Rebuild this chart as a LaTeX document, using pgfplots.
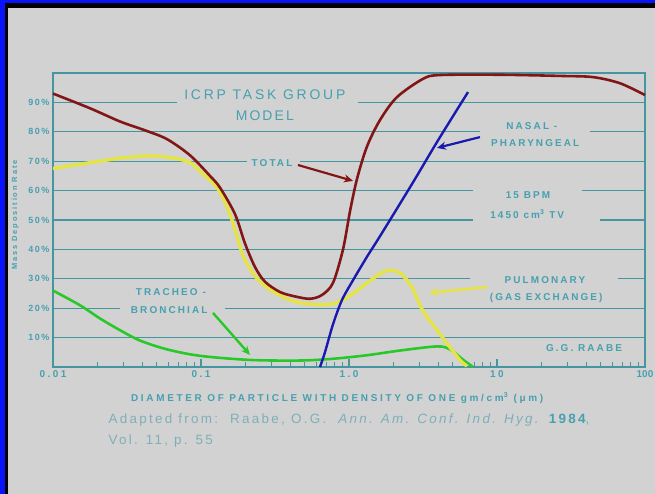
\documentclass[border=0pt]{standalone}
\usepackage{pgfplots}
\pgfplotsset{compat=1.18}
\usepackage{fontspec}
\setmainfont{Liberation Sans}
\usetikzlibrary{arrows.meta}

\definecolor{slidebg}{RGB}{210,210,210}
\definecolor{frameblue}{RGB}{10,20,250}
\definecolor{gridteal}{RGB}{70,150,162}
\definecolor{labteal}{RGB}{70,160,175}
\definecolor{captteal}{RGB}{125,175,185}
\definecolor{totalred}{RGB}{130,22,22}
\definecolor{pulmyellow}{RGB}{228,228,70}
\definecolor{trachgreen}{RGB}{40,200,40}
\definecolor{nasalblue}{RGB}{25,25,175}

\tikzset{
  lab/.style={text=labteal, inner sep=0pt,
    font=\bfseries\fontsize{10}{11}\selectfont\addfontfeature{LetterSpace=21}},
  gl/.style={gridteal, line width=1.3pt},
}

\begin{document}
\begin{tikzpicture}[x=1bp,y=1bp]
\useasboundingbox (0,0) rectangle (655,494);
% slide background and frame
\fill[slidebg] (0,0) rectangle (655,494);
\fill[frameblue] (0,0) rectangle (5,494);
\fill[frameblue] (0,491) rectangle (655,494);
\fill[black] (5,0) rectangle (8,491);
\fill[black] (5,486) rectangle (655,491);

\begin{axis}[
  at={(53bp,127bp)}, anchor=south west,
  scale only axis, width=592bp, height=294bp,
  xmode=log, xmin=0.01, xmax=100, ymin=0, ymax=100,
  axis line style={gridteal, line width=1.4pt},
  xtick={0.01,0.1,1,10,100},
  xticklabels={0.01,0.1,1.0,10,{\addfontfeature{LetterSpace=0}100}},
  minor xtick={0.02,0.03,0.04,0.05,0.06,0.07,0.08,0.09,
               0.2,0.3,0.4,0.5,0.6,0.7,0.8,0.9,
               2,3,4,5,6,7,8,9,20,30,40,50,60,70,80,90},
  xtick pos=bottom, tick align=inside,
  major tick length=8bp, minor tick length=5bp,
  every tick/.style={gridteal, line width=1.1pt},
  ytick={10,20,30,40,50,60,70,80,90},
  yticklabels={10\%,20\%,30\%,40\%,50\%,60\%,70\%,80\%,90\%},
  ytick style={draw=none},
  ytick pos=left,
  xticklabel style={font=\bfseries\fontsize{10}{11}\selectfont\addfontfeature{LetterSpace=25}, text=labteal},
  yticklabel style={font=\bfseries\fontsize{9}{10}\selectfont\addfontfeature{LetterSpace=18}, text=labteal},
  xlabel={DIAMETER OF PARTICLE WITH DENSITY OF ONE gm/cm\textsuperscript{3} (μm)},
  xlabel style={at={(axis description cs:0.48,-0.105)}, anchor=center,
    font=\bfseries\fontsize{10}{11}\selectfont\addfontfeature{LetterSpace=27}, text=labteal},
  ylabel={Mass Deposition Rate},
  ylabel style={at={(axis description cs:-0.064,0.517)}, anchor=center,
    font=\bfseries\fontsize{7.5}{8}\selectfont\addfontfeature{LetterSpace=25}, text=labteal},
  clip=false,
]
% horizontal rules, broken where the labels stand
\draw[gl] (axis cs:0.01,90) -- (axis cs:0.0689,90) (axis cs:1.151,90) -- (axis cs:100,90);
\draw[gl] (axis cs:0.01,80) -- (axis cs:7.67,80) (axis cs:42.5,80) -- (axis cs:100,80);
\draw[gl] (axis cs:0.01,70) -- (axis cs:0.2047,70) (axis cs:0.467,70) -- (axis cs:100,70);
\draw[gl] (axis cs:0.01,60) -- (axis cs:6.88,60) (axis cs:37.5,60) -- (axis cs:100,60);
\draw[gl] (axis cs:0.01,50) -- (axis cs:6.88,50) (axis cs:49.7,50) -- (axis cs:100,50);
\draw[gl] (axis cs:0.01,40) -- (axis cs:100,40);
\draw[gl] (axis cs:0.01,30) -- (axis cs:6.57,30) (axis cs:65.7,30) -- (axis cs:100,30);
\draw[gl] (axis cs:0.01,20) -- (axis cs:0.0284,20) (axis cs:0.145,20) -- (axis cs:100,20);
\draw[gl] (axis cs:0.01,10) -- (axis cs:100,10);

% tracheo-bronchial
\addplot[trachgreen, line width=2.6pt, smooth] coordinates {
  (0.01,26) (0.01522,21) (0.02078,16.5) (0.0284,12.5) (0.0387,9)
  (0.0589,6) (0.0985,3.8) (0.2144,2.4) (0.4667,2.2) (0.7795,2.8)
  (1.323,4) (2.211,5.6) (3.93,7) (4.813,6) (5.891,2.5) (6.883,0)
};
% pulmonary (gas exchange)
\addplot[pulmyellow, line width=3.4pt, smooth] coordinates {
  (0.01,67.5) (0.0178,69.5) (0.0284,71) (0.0452,71.8) (0.0667,71)
  (0.0843,69.5) (0.0985,66.5) (0.1283,61) (0.157,52) (0.1922,38)
  (0.2317,31) (0.2792,27) (0.3695,23.5) (0.4667,21.8) (0.6369,21.2)
  (0.7795,21.5) (0.9397,23.2) (1.098,25.5) (1.323,28.6) (1.697,32.3)
  (1.983,32.8) (2.280,31.5) (2.666,27) (3.162,19) (3.811,13.5)
  (4.595,8) (5.623,2.4) (6.27,0.3)
};
% total
\addplot[totalred, line width=2.6pt, smooth] coordinates {
  (0.01,93) (0.01778,88) (0.02837,83.5) (0.04183,80.5) (0.0589,77.5)
  (0.0843,72) (0.1150,65) (0.1344,61) (0.1697,52) (0.1983,42)
  (0.2317,34) (0.2706,29) (0.3418,25.5) (0.4316,24) (0.5450,23.2)
  (0.6571,24.5) (0.7795,28.6) (0.9110,40) (1.016,53) (1.133,64)
  (1.323,75) (1.620,84) (2.110,91.8) (3.162,98) (4.120,99.3)
  (10.48,99.4) (26.7,99) (44.5,98.6) (67.8,96.5) (100,92.5)
};
% nasal-pharyngeal
\addplot[nasalblue, line width=2.4pt, smooth] coordinates {
  (0.6369,0) (0.688,5) (0.7795,14.5) (0.8968,22.8) (1.064,29.5)
  (1.323,37.5) (1.620,44.5) (2.707,62.8) (3.93,76.5) (6.369,93.5)
};

% labels and pointers
\node[lab, font=\fontsize{14}{15}\selectfont\addfontfeature{LetterSpace=20}] at (axis cs:0.27,92.5) {ICRP TASK GROUP};
\node[lab, font=\fontsize{14}{15}\selectfont\addfontfeature{LetterSpace=15}] at (axis cs:0.27,85.4) {MODEL};
\node[lab] at (axis cs:0.302,69.4) {TOTAL};
\node[lab] at (axis cs:17.2,82) {NASAL -};
\node[lab] at (axis cs:18.1,76.2) {PHARYNGEAL};
\node[lab] at (axis cs:16.2,58.5) {15 BPM};
\node[lab] at (axis cs:16,52) {1450 cm\textsuperscript{3} TV};
\node[lab] at (axis cs:21.1,29.6) {PULMONARY};
\node[lab] at (axis cs:21.5,23.5) {(GAS EXCHANGE)};
\node[lab] at (axis cs:0.0626,25.5) {TRACHEO -};
\node[lab] at (axis cs:0.061,19.4) {BRONCHIAL};
\node[lab] at (axis cs:38.7,6.5) {G.G. RAABE};

\draw[totalred, line width=2.2pt, -{Stealth[length=9bp,width=8bp]}]
  (axis cs:0.452,68.7) -- (axis cs:1.064,63.3);
\draw[nasalblue, line width=2.2pt, -{Stealth[length=9bp,width=8bp]}]
  (axis cs:7.67,78.2) -- (axis cs:3.93,74.5);
\draw[pulmyellow, line width=2.6pt, -{Stealth[length=9bp,width=8bp]}]
  (axis cs:8.56,27.2) -- (axis cs:3.47,25.2);
\draw[trachgreen, line width=2.4pt, -{Stealth[length=9bp,width=8bp]}]
  (axis cs:0.1205,18.4) -- (axis cs:0.2144,4.1);
\end{axis}

% source line below the chart
\node[anchor=west, text=captteal, font=\fontsize{13.5}{14}\selectfont\addfontfeature{LetterSpace=17}]
  at (105,74) {Adapted from:\ \ Raabe, O.G.\ \ \textit{Ann. Am. Conf. Ind. Hyg.} \textcolor{labteal}{\bfseries 1984},};
\node[anchor=west, text=captteal, font=\fontsize{13.5}{14}\selectfont\addfontfeature{LetterSpace=17}]
  at (105,53) {Vol. 11, p. 55};
\end{tikzpicture}
\end{document}
